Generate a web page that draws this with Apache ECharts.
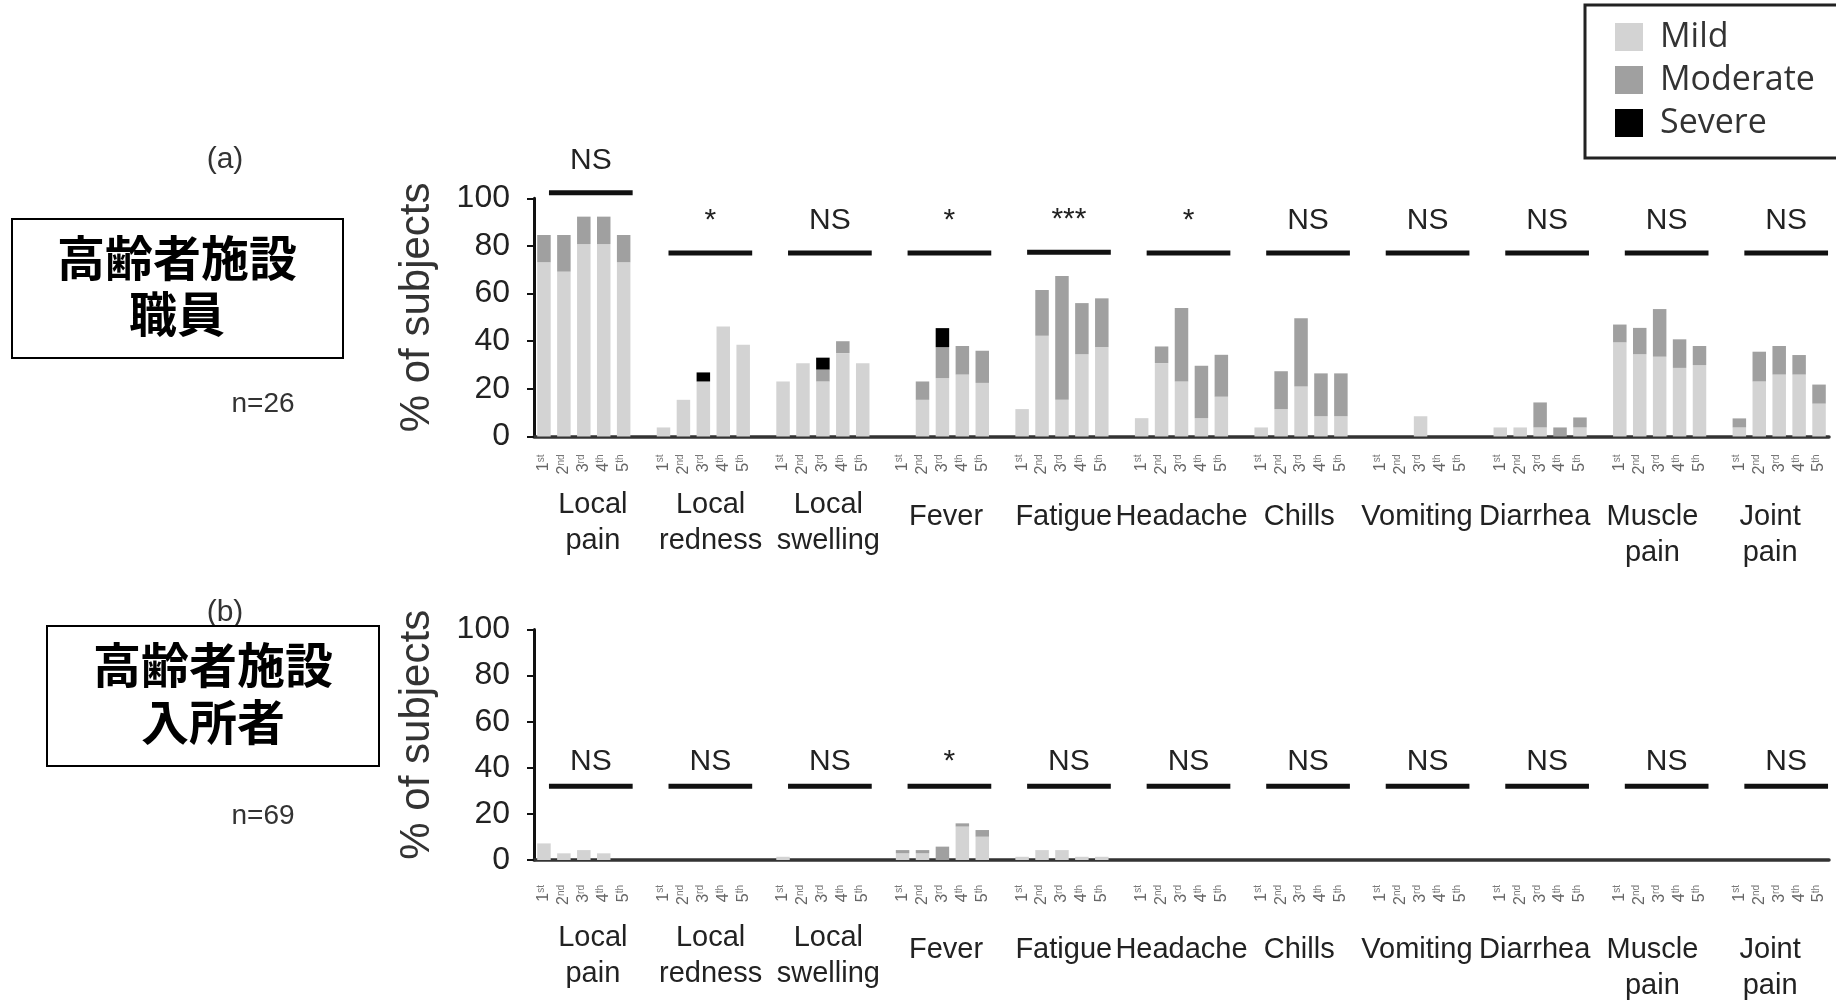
<!DOCTYPE html>
<html>
<head>
<meta charset="utf-8">
<script src="https://cdn.jsdelivr.net/npm/echarts@6/dist/echarts.min.js"></script>
<style>
  html, body { margin: 0; padding: 0; background: #fff; }
  #chart { width: 1836px; height: 1004px; }
</style>
</head>
<body>
<div id="chart"></div>
<script>
// Adverse reactions after each vaccine dose, % of subjects by severity
const symptoms = ['Local\npain', 'Local\nredness', 'Local\nswelling', 'Fever', 'Fatigue', 'Headache',
                  'Chills', 'Vomiting', 'Diarrhea', 'Muscle\npain', 'Joint\npain'];
const doses = ['1st', '2nd', '3rd', '4th', '5th'];
const severities = ['Mild', 'Moderate', 'Severe'];

// (a) facility staff, n=26 — one row per symptom, one value per dose
const staffMild = [
  [73.1, 69.2, 80.8, 80.8, 73.1],
  [3.8, 15.4, 23.1, 46.2, 38.5],
  [23.1, 30.8, 23.1, 35.0, 30.8],
  [0, 15.4, 24.5, 26.0, 22.5],
  [11.5, 42.3, 15.4, 34.6, 37.5],
  [7.7, 30.8, 23.1, 7.7, 16.7],
  [3.8, 11.5, 21.0, 8.5, 8.5],
  [0, 0, 8.5, 0, 0],
  [3.8, 3.8, 3.8, 0, 3.8],
  [39.5, 34.6, 33.5, 28.8, 30.0],
  [3.8, 23.1, 26.0, 26.0, 13.8]
];
const staffModerate = [
  [11.5, 15.4, 11.5, 11.5, 11.5],
  [0, 0, 0, 0, 0],
  [0, 0, 5.0, 5.0, 0],
  [0, 7.7, 13.0, 12.0, 13.5],
  [0, 19.2, 52.0, 21.4, 20.5],
  [0, 7.0, 30.8, 22.0, 17.6],
  [0, 15.9, 28.6, 18.0, 18.0],
  [0, 0, 0, 0, 0],
  [0, 0, 10.5, 3.8, 4.2],
  [7.5, 11.0, 20.0, 12.0, 8.0],
  [3.8, 12.5, 12.0, 8.2, 8.0]
];
const staffSevere = [
  [0, 0, 0, 0, 0],
  [0, 0, 3.8, 0, 0],
  [0, 0, 5.0, 0, 0],
  [0, 0, 8.0, 0, 0],
  [0, 0, 0, 0, 0],
  [0, 0, 0, 0, 0],
  [0, 0, 0, 0, 0],
  [0, 0, 0, 0, 0],
  [0, 0, 0, 0, 0],
  [0, 0, 0, 0, 0],
  [0, 0, 0, 0, 0]
];
const staffSig = ['NS', '*', 'NS', '*', '***', '*', 'NS', 'NS', 'NS', 'NS', 'NS'];

// (b) facility residents, n=69
const residentMild = [
  [7.2, 2.9, 4.3, 2.9, 0],
  [0, 0, 0, 0, 0],
  [1.4, 0, 0, 0, 0],
  [2.9, 2.9, 0, 14.5, 10.1],
  [1.4, 4.3, 4.3, 1.4, 1.4],
  [0, 0, 0, 0, 0],
  [0, 0, 0, 0, 0],
  [0, 0, 0, 0, 0],
  [0, 0, 0, 0, 0],
  [0, 0, 0, 0, 0],
  [0, 0, 0, 0, 0]
];
const residentModerate = [
  [0, 0, 0, 0, 0],
  [0, 0, 0, 0, 0],
  [0, 0, 0, 0, 0],
  [1.4, 1.4, 5.8, 1.4, 2.9],
  [0, 0, 0, 0, 0],
  [0, 0, 0, 0, 0],
  [0, 0, 0, 0, 0],
  [0, 0, 0, 0, 0],
  [0, 0, 0, 0, 0],
  [0, 0, 0, 0, 0],
  [0, 0, 0, 0, 0]
];
const residentSevere = symptoms.map(() => [0, 0, 0, 0, 0]);
const residentSig = ['NS', 'NS', 'NS', '*', 'NS', 'NS', 'NS', 'NS', 'NS', 'NS', 'NS'];

const yTicks = [0, 20, 40, 60, 80, 100];

// ---- layout / styling ----
const FONT = '"Liberation Sans", Arial, sans-serif';
const COLORS = { Mild: '#d3d3d3', Moderate: '#a0a0a0', Severe: '#000000' };
const SLOTS_PER_GROUP = doses.length + 1;           // 5 doses + one blank spacer
const nSlots = symptoms.length * SLOTS_PER_GROUP - 1;

// slot labels along the dose axis (blank for spacer slots)
const slotLabels = [];
for (let s = 0; s < nSlots; s++) {
  const d = s % SLOTS_PER_GROUP;
  slotLabels.push(d < doses.length ? doses[d] : '');
}
// spread a symptom x dose table across the slot axis
function toSlots(table) {
  const out = [];
  for (let s = 0; s < nSlots; s++) {
    const g = Math.floor(s / SLOTS_PER_GROUP), d = s % SLOTS_PER_GROUP;
    out.push(d < doses.length ? table[g][d] : null);
  }
  return out;
}
function groupTotals(tables) {
  return symptoms.map((_, g) => Math.max(...doses.map((_, d) =>
    tables.reduce((acc, t) => acc + t[g][d], 0))));
}

const panels = [
  { mild: staffMild, moderate: staffModerate, severe: staffSevere, sig: staffSig,
    grid: { left: 534, width: 1295, top: 198.3, height: 238.2 },
    doseMargin: 18, symOffset: 40, symMargin: 10, sigFloor: 77, sigGap: 17 },
  { mild: residentMild, moderate: residentModerate, severe: residentSevere, sig: residentSig,
    grid: { left: 534, width: 1295, top: 629.5, height: 230.5 },
    doseMargin: 25, symOffset: 50, symMargin: 10, sigFloor: 32, sigGap: 10 }
];

const grids = [], xAxes = [], yAxes = [], series = [];
panels.forEach((p, i) => {
  grids.push(p.grid);
  // dose axis (1st..5th under each bar)
  xAxes.push({
    type: 'category', gridIndex: i, data: slotLabels, position: 'bottom',
    axisLine: { show: true, lineStyle: { color: '#333', width: 3.5 } },
    axisTick: { show: false },
    axisLabel: {
      interval: 0, rotate: 90, margin: p.doseMargin, hideOverlap: false,
      formatter: v => v ? `{n|${v[0]}}{s|${v.slice(1)}}` : '',
      rich: {
        n: { fontSize: 16, color: '#666', fontFamily: FONT },
        s: { fontSize: 10, color: '#777', fontFamily: FONT, verticalAlign: 'top' }
      }
    }
  });
  // symptom names under each group of five doses
  xAxes.push({
    type: 'category', gridIndex: i, data: symptoms, position: 'bottom', offset: p.symOffset,
    axisLine: { show: false }, axisTick: { show: false },
    axisLabel: {
      interval: 0, margin: p.symMargin, hideOverlap: false,
      formatter: v => v.startsWith('Local')
        ? v.split('\n').map(l => `{t|${l}}`).join('\n')
        : '{sp| }\n' + v.split('\n').map(l => `{t|${l}}`).join('\n'),
      rich: {
        t: { fontSize: 29, lineHeight: 36, color: '#222', fontFamily: FONT },
        sp: { fontSize: 1, lineHeight: 12 }
      }
    }
  });
  yAxes.push({
    type: 'value', gridIndex: i, min: 0, max: 100, interval: 20,
    name: '% of subjects', nameLocation: 'middle', nameGap: 96, nameRotate: 90,
    nameTextStyle: { fontSize: 42, color: '#333', fontFamily: FONT, padding: [0, 0, 0, 20] },
    axisLine: { show: true, lineStyle: { color: '#111', width: 3 } },
    axisTick: { show: true, length: 7, lineStyle: { color: '#111', width: 2 } },
    splitLine: { show: false },
    axisLabel: {
      margin: 24, fontSize: 32, color: '#222', fontFamily: FONT,
      customValues: yTicks
    }
  });

  const xIdx = i * 2;
  [['Mild', p.mild], ['Moderate', p.moderate], ['Severe', p.severe]].forEach(([name, tbl]) => {
    series.push({
      type: 'bar', name, stack: 'panel' + i, xAxisIndex: xIdx, yAxisIndex: i,
      barWidth: 13.5, data: toSlots(tbl), silent: true,
      itemStyle: { color: COLORS[name] }
    });
  });

  // significance bars with their marks above each symptom group
  const totals = groupTotals([p.mild, p.moderate, p.severe]);
  const sigData = symptoms.map((_, g) => [
    g * SLOTS_PER_GROUP, g * SLOTS_PER_GROUP + doses.length - 1,
    Math.max(p.sigFloor, totals[g] + 10)
  ]);
  series.push({
    type: 'custom', xAxisIndex: xIdx, yAxisIndex: i, silent: true, clip: false,
    dimensions: ['from', 'to', 'level'],
    encode: { x: [0, 1], y: 2 },
    data: sigData,
    renderItem: (params, api) => {
      const a = api.coord([api.value(0), api.value(2)]);
      const b = api.coord([api.value(1), api.value(2)]);
      const shift = 7;   // bracket sits slightly right of the bar group
      return {
        type: 'group',
        children: [
          { type: 'line', shape: { x1: a[0] - 2 + shift, y1: a[1], x2: b[0] + 2 + shift, y2: b[1] },
            style: { stroke: '#111', lineWidth: 5 } },
          { type: 'text',
            style: { text: p.sig[params.dataIndex], x: (a[0] + b[0]) / 2 + shift, y: a[1] - p.sigGap,
                     align: 'center', verticalAlign: 'bottom',
                     fontSize: 30, fill: '#222', fontFamily: FONT } }
        ]
      };
    }
  });
});

const chart = echarts.init(document.getElementById('chart'), null, { renderer: 'canvas' });
chart.setOption({
  backgroundColor: '#ffffff',
  animation: false,
  grid: grids,
  xAxis: xAxes,
  yAxis: yAxes,
  series: series,
  legend: {
    data: severities, orient: 'vertical', left: 1585, top: 5,
    padding: [15, 60, 18, 30], itemGap: 9, itemWidth: 28, itemHeight: 28,
    icon: 'rect', borderColor: '#222', borderWidth: 3, backgroundColor: '#fff',
    selectedMode: false,
    textStyle: { fontSize: 34, lineHeight: 30, color: '#333', fontFamily: '"Open Sans", sans-serif',
                 padding: [0, 0, 0, 12] }
  },
  graphic: [
    { type: 'text', x: 225, y: 160,
      style: { text: '(a)', align: 'center', verticalAlign: 'middle', font: '30px ' + FONT, fill: '#333' } },
    { type: 'rect', shape: { x: 12, y: 219, width: 331, height: 139 },
      style: { fill: '#fff', stroke: '#000', lineWidth: 2 } },
    { type: 'text', x: 177, y: 286,
      style: { text: '高齢者施設\n職員', align: 'center', verticalAlign: 'middle', lineHeight: 56,
               font: 'bold 48px "Noto Sans CJK JP"', fill: '#000' } },
    { type: 'text', x: 263, y: 404,
      style: { text: 'n=26', align: 'center', verticalAlign: 'middle', font: '28px ' + FONT, fill: '#333' } },

    { type: 'text', x: 225, y: 613,
      style: { text: '(b)', align: 'center', verticalAlign: 'middle', font: '30px ' + FONT, fill: '#333' } },
    { type: 'rect', shape: { x: 47, y: 626, width: 332, height: 140 },
      style: { fill: '#fff', stroke: '#000', lineWidth: 2 } },
    { type: 'text', x: 213, y: 693,
      style: { text: '高齢者施設\n入所者', align: 'center', verticalAlign: 'middle', lineHeight: 57,
               font: 'bold 48px "Noto Sans CJK JP"', fill: '#000' } },
    { type: 'text', x: 263, y: 816,
      style: { text: 'n=69', align: 'center', verticalAlign: 'middle', font: '28px ' + FONT, fill: '#333' } }
  ]
});
</script>
</body>
</html>
